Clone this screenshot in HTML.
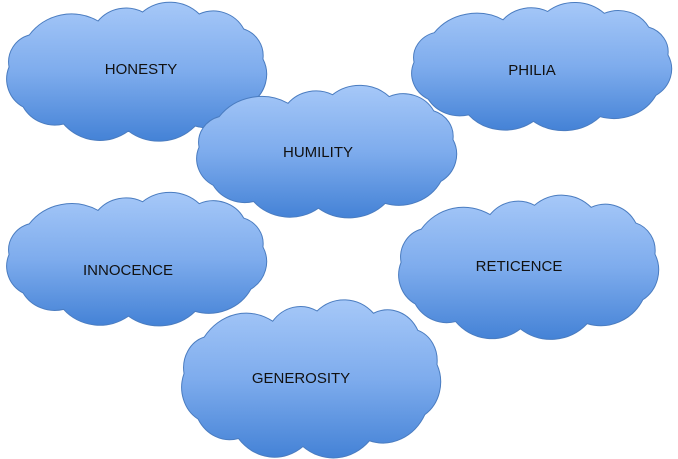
<!DOCTYPE html>
<html><head><meta charset="utf-8"><style>
html,body{margin:0;padding:0;background:#fff;width:678px;height:459px;overflow:hidden}
svg{position:absolute;left:0;top:0}
</style></head><body>
<svg width="678" height="459" viewBox="0 0 678 459" xmlns="http://www.w3.org/2000/svg">
<defs>
<linearGradient id="g" x1="0" y1="0" x2="0" y2="1">
<stop offset="0" stop-color="#a6c8f8"/><stop offset="0.5" stop-color="#7eaced"/><stop offset="1" stop-color="#4482d6"/>
</linearGradient>
<symbol id="c" viewBox="0 0 260 130" preserveAspectRatio="none" overflow="visible">
<path d="M18,102 A32,32 0 0 1 4,62 A28,28 0 0 1 24,30 A52,52 0 0 1 92,16 A36,36 0 0 1 136,7 A42,42 0 0 1 192,9 A34,34 0 0 1 236,24 A28,28 0 0 1 255,54 A34,34 0 0 1 243,98 A47,47 0 0 1 188,121 A50,50 0 0 1 122,126 A47,47 0 0 1 58,119 A36,36 0 0 1 18,102 Z" fill="url(#g)" stroke="#4a7cc0" stroke-width="1" vector-effect="non-scaling-stroke"/>
</symbol>
</defs>
<use href="#c" x="5" y="5" width="263" height="130"/>
<use href="#c" x="410" y="5" width="263" height="120"/>
<use href="#c" x="195" y="88" width="263" height="124"/>
<use href="#c" x="5" y="195" width="263" height="125"/>
<use href="#c" x="397" y="198" width="263" height="135"/>
<use href="#c" x="180" y="303" width="262" height="148"/>
<g font-family="Liberation Sans, sans-serif" font-size="15" fill="#111" text-anchor="middle">
<text x="141" y="74">HONESTY</text>
<text x="532" y="75">PHILIA</text>
<text x="318" y="157">HUMILITY</text>
<text x="128" y="275">INNOCENCE</text>
<text x="519" y="271">RETICENCE</text>
<text x="301" y="383">GENEROSITY</text>
</g>
</svg>
</body></html>
